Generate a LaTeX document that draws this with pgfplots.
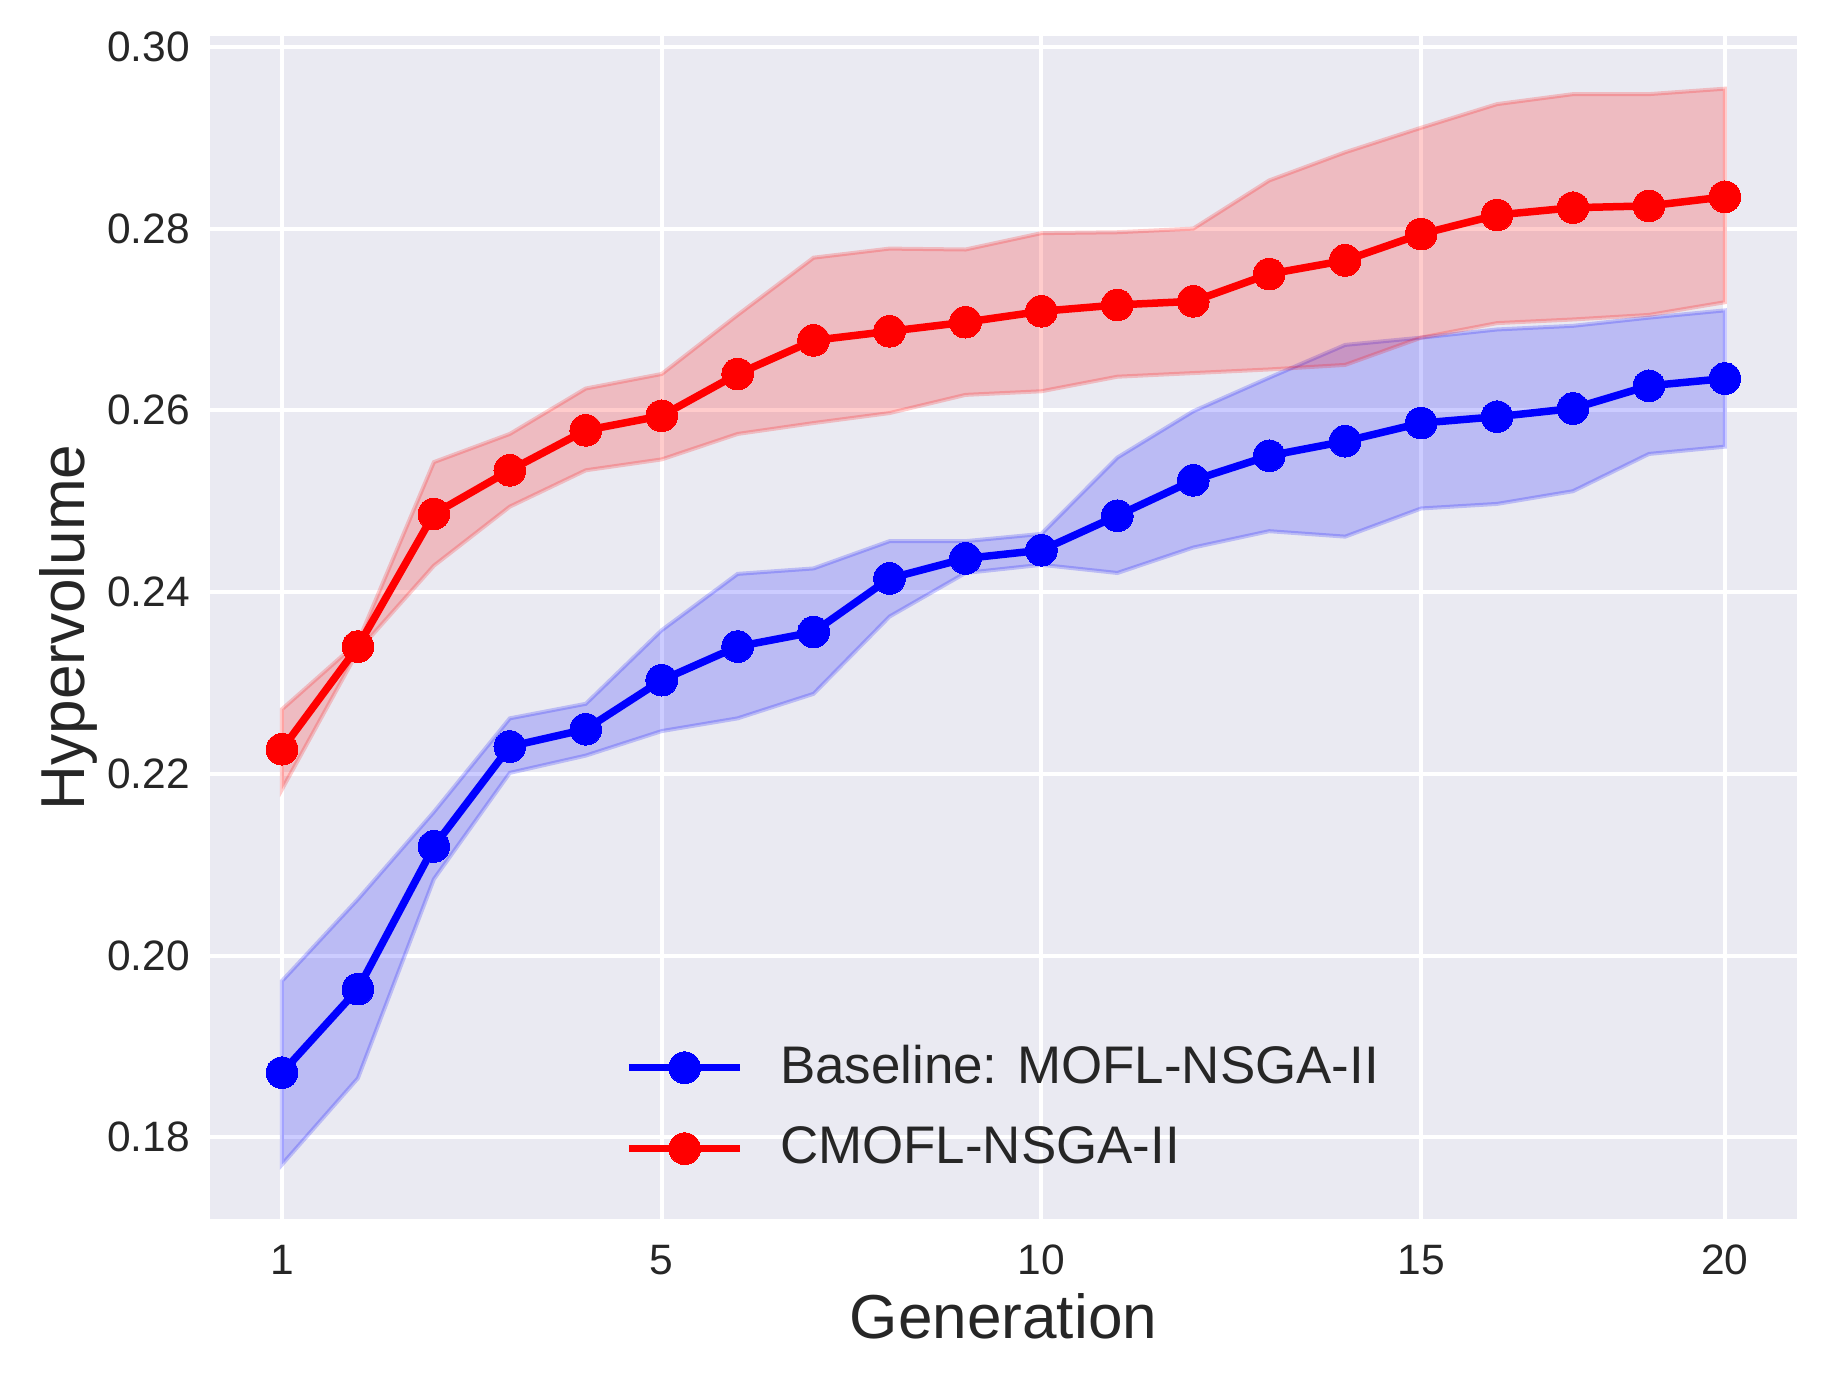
\documentclass[border=0pt]{standalone}
\usepackage{fontspec}
\setmainfont{Liberation Sans}
\usepackage{pgfplots}
\pgfplotsset{compat=1.18}
\definecolor{bg}{HTML}{EAEAF2}
\definecolor{txt}{HTML}{262626}
\begin{document}
\begin{tikzpicture}
\useasboundingbox (-50.4pt,-38.88pt) rectangle (388.32pt,292.56pt);
\begin{axis}[
  at={(0,0)}, anchor=south west,
  scale only axis, width=380.88pt, height=283.92pt,
  xmin=-0.948, xmax=19.95, ymin=0.1710, ymax=0.3012,
  axis background/.style={fill=bg},
  axis line style={draw=none},
  major tick length=0pt,
  grid=major, grid style={white, line width=0.96pt},
  xtick={0,5,10,15,19}, xticklabels={1,5,10,15,20},
  ytick={0.18,0.20,0.22,0.24,0.26,0.28,0.30},
  yticklabels={0.18,0.20,0.22,0.24,0.26,0.28,0.30},
  tick label style={font=\fontsize{10.2}{12}\selectfont, text=txt},
  xticklabel style={anchor=north, inner sep=0pt, yshift=-6pt},
  yticklabel style={anchor=east, inner sep=0pt, xshift=-4.6pt},
  xlabel={Generation}, ylabel={Hypervolume},
  every axis x label/.style={at={(axis description cs:0.5,-0.1007)}, anchor=base,
    font=\fontsize{14.9}{18}\selectfont, text=txt},
  every axis y label/.style={at={(axis description cs:-0.0788,0.5)}, rotate=90, anchor=base,
    font=\fontsize{14.9}{18}\selectfont, text=txt},
  legend style={draw=none, fill=none, at={(axis description cs:0.2615,0.094)}, anchor=west,
    inner sep=0pt, outer sep=0pt, row sep=8.9pt, column sep=8.6pt,
    font=\fontsize{12.7}{15}\selectfont, text=txt, nodes={inner sep=0pt}},
  legend cell align=left,
  legend image code/.code={\draw[mark repeat=2,mark phase=2,#1] plot coordinates {(0pt,0pt) (13.4pt,0pt) (26.8pt,0pt)};},
]
% Baseline band
\addplot[forget plot, fill=blue, draw=blue, opacity=0.2, line width=0.96pt] coordinates {
(0,0.1972) (1,0.2062) (2,0.2158) (3,0.2261) (4,0.2277) (5,0.2358) (6,0.2420) (7,0.2426) (8,0.2456) (9,0.2456)
(10,0.2464) (11,0.2548) (12,0.2599) (13,0.2636) (14,0.2672) (15,0.2680) (16,0.2689) (17,0.2693) (18,0.2702) (19,0.2710)
(19,0.2560) (18,0.2552) (17,0.2511) (16,0.2497) (15,0.2492) (14,0.2461) (13,0.2467) (12,0.2449) (11,0.2421) (10,0.2430)
(9,0.2421) (8,0.2373) (7,0.2288) (6,0.2261) (5,0.2247) (4,0.2220) (3,0.2201) (2,0.2084) (1,0.1865) (0,0.1770)
} -- cycle;
\addplot[blue, line width=1.8pt, line join=round, mark=*, mark size=3.8pt, mark options={fill=blue, draw=blue, line width=0pt}] coordinates {
(0,0.1871) (1,0.1963) (2,0.2120) (3,0.2230) (4,0.2249) (5,0.2303) (6,0.2340) (7,0.2356) (8,0.2415) (9,0.2437)
(10,0.2446) (11,0.2484) (12,0.2523) (13,0.2550) (14,0.2566) (15,0.2586) (16,0.2593) (17,0.2602) (18,0.2627) (19,0.2635)
};
\addlegendentry{Baseline: MOFL-NSGA-II}
% CMOFL band
\addplot[forget plot, fill=red, draw=red, opacity=0.2, line width=0.96pt] coordinates {
(0,0.2271) (1,0.2345) (2,0.2543) (3,0.2574) (4,0.2624) (5,0.2640) (6,0.2705) (7,0.2768) (8,0.2778) (9,0.2777)
(10,0.2795) (11,0.2796) (12,0.2800) (13,0.2853) (14,0.2884) (15,0.2911) (16,0.2937) (17,0.2948) (18,0.2948) (19,0.2954)
(19,0.2719) (18,0.2705) (17,0.2700) (16,0.2696) (15,0.2680) (14,0.2650) (13,0.2645) (12,0.2641) (11,0.2637) (10,0.2621)
(9,0.2617) (8,0.2597) (7,0.2586) (6,0.2574) (5,0.2546) (4,0.2534) (3,0.2494) (2,0.2429) (1,0.2335) (0,0.2183)
} -- cycle;
\addplot[red, line width=1.8pt, line join=round, mark=*, mark size=3.8pt, mark options={fill=red, draw=red, line width=0pt}] coordinates {
(0,0.2227) (1,0.2340) (2,0.2486) (3,0.2534) (4,0.2578) (5,0.2594) (6,0.2640) (7,0.2677) (8,0.2687) (9,0.2697)
(10,0.2709) (11,0.2716) (12,0.2720) (13,0.2750) (14,0.2765) (15,0.2794) (16,0.2815) (17,0.2823) (18,0.2825) (19,0.2835)
};
\addlegendentry{CMOFL-NSGA-II}
\end{axis}
\end{tikzpicture}
\end{document}
